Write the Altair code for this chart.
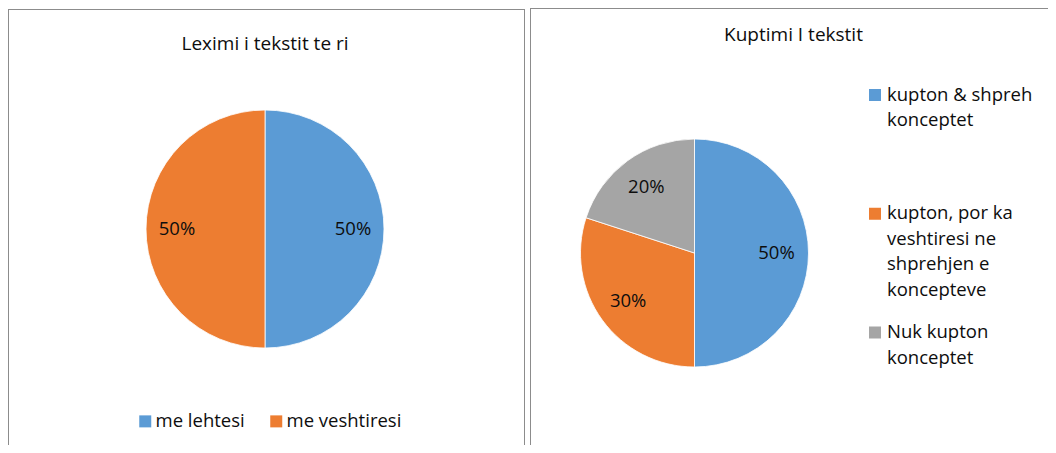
import altair as alt
import pandas as pd

# ---- data ----
left_title = "Leximi i tekstit te ri"
left_categories = ["me lehtesi", "me veshtiresi"]
left_values = [0.5, 0.5]

right_title = "Kuptimi I tekstit"
right_categories = [
    "kupton & shpreh konceptet",
    "kupton, por ka veshtiresi ne shprehjen e koncepteve",
    "Nuk kupton konceptet",
]
right_legend_lines = [
    ["kupton & shpreh", "konceptet"],
    ["kupton, por ka", "veshtiresi ne", "shprehjen e", "koncepteve"],
    ["Nuk kupton", "konceptet"],
]
right_values = [0.5, 0.3, 0.2]

palette = ["#5B9BD5", "#ED7D31", "#A5A5A5"]

FONT = "Open Sans"
TXT = "#0d0d0d"
BORDER = "#8c8c8c"

left_df = pd.DataFrame({"category": left_categories, "value": left_values,
                        "idx": list(range(len(left_values)))})
right_df = pd.DataFrame({"category": right_categories, "value": right_values,
                         "idx": list(range(len(right_values))),
                         "label": ["\n".join(l) for l in right_legend_lines]})
one = pd.DataFrame({"k": [0]})

# ---- panel borders ----
def rule(x, x2, y, y2):
    return alt.Chart(one).mark_rule(color=BORDER, strokeWidth=1).encode(
        x=alt.value(x), x2=alt.value(x2), y=alt.value(y), y2=alt.value(y2))

borders = [
    rule(0.5, 0.5, 1, 437),
    rule(0.5, 516.5, 1.5, 1.5),
    rule(516.5, 516.5, 1, 437),
    rule(522.5, 522.5, 0, 437),
    rule(522, 1040, 0.5, 0.5),
]

# ---- left pie ----
L_CX, L_CY, L_R = 257, 221, 119
left_theta = alt.Theta("value:Q", stack=True)
left_arc = alt.Chart(left_df).mark_arc(radius=L_R, stroke="white", strokeWidth=0.8).encode(
    theta=left_theta,
    order=alt.Order("idx:Q", sort="ascending"),
    color=alt.Color("category:N",
                    scale=alt.Scale(domain=left_categories, range=palette[:2]),
                    sort=left_categories,
                    legend=alt.Legend(orient="none", legendX=128, legendY=404,
                                      direction="horizontal", title=None,
                                      symbolType="square", symbolSize=144,
                                      symbolStrokeWidth=0, symbolOpacity=1,
                                      labelFontSize=18.5, labelFont=FONT,
                                      labelColor=TXT, labelOffset=1,
                                      columnPadding=22)),
    x=alt.value(L_CX), y=alt.value(L_CY),
)
left_lbl = alt.Chart(left_df).mark_text(radius=88, fontSize=18.5, font=FONT, color=TXT).encode(
    theta=left_theta,
    order=alt.Order("idx:Q", sort="ascending"),
    text=alt.Text("value:Q", format=".0%"),
    x=alt.value(L_CX), y=alt.value(L_CY),
)
left_ttl = alt.Chart(pd.DataFrame({"t": [left_title]})).mark_text(
    fontSize=19, font=FONT, color=TXT).encode(text="t:N", x=alt.value(257), y=alt.value(36))

# ---- right pie ----
R_CX, R_CY, R_R = 686.5, 245, 114
right_theta = alt.Theta("value:Q", stack=True)
right_color = alt.Color("category:N",
                        scale=alt.Scale(domain=right_categories, range=palette),
                        legend=None)
right_arc = alt.Chart(right_df).mark_arc(radius=R_R, stroke="white", strokeWidth=0.8).encode(
    theta=right_theta,
    order=alt.Order("idx:Q", sort="ascending"),
    color=right_color,
    x=alt.value(R_CX), y=alt.value(R_CY),
)
right_lbl = alt.Chart(right_df).mark_text(radius=82, fontSize=18.5, font=FONT, color=TXT).encode(
    theta=right_theta,
    order=alt.Order("idx:Q", sort="ascending"),
    text=alt.Text("value:Q", format=".0%"),
    x=alt.value(R_CX), y=alt.value(R_CY),
)
right_ttl = alt.Chart(pd.DataFrame({"t": [right_title]})).mark_text(
    fontSize=19, font=FONT, color=TXT).encode(text="t:N", x=alt.value(785.5), y=alt.value(27))

legend_y = alt.Y("category:N", axis=None,
                 scale=alt.Scale(domain=right_categories, range=[87, 324.5], padding=0))
right_leg_sym = alt.Chart(right_df).mark_square(size=144, opacity=1).encode(
    x=alt.value(867), y=legend_y, color=right_color)
right_leg_txt = alt.Chart(right_df).mark_text(
    align="left", baseline="top", lineBreak="\n", lineHeight=25.5,
    fontSize=18.5, font=FONT, color=TXT, dy=-9.5).encode(
    x=alt.value(879), y=legend_y, text="label:N")

chart = alt.layer(
    *borders, left_arc, left_lbl, left_ttl,
    right_arc, right_lbl, right_ttl, right_leg_sym, right_leg_txt,
).resolve_scale(color="independent").properties(
    width=1040, height=437, autosize=alt.AutoSizeParams(type="none"), padding=0
).configure_view(stroke=None)

chart.save("out.html", embed_options={"renderer": "svg", "actions": False})
